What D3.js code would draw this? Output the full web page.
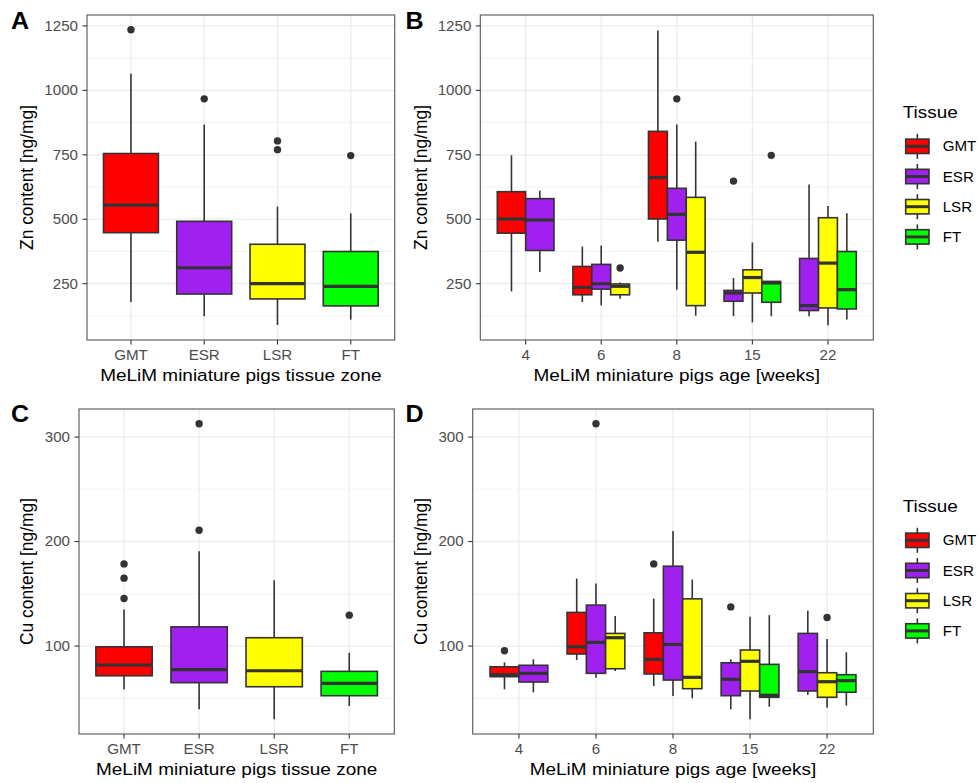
<!DOCTYPE html>
<html>
<head>
<meta charset="utf-8">
<script src="https://cdn.jsdelivr.net/npm/d3@7"></script>
<style>
  body { margin: 0; background: #fff; }
  svg { display: block; }
  text { font-family: "Liberation Sans", Arial, Helvetica, sans-serif; }
</style>
</head>
<body>
<svg id="chart" width="978" height="783"></svg>
<script>
// ---- data -------------------------------------------------------------
const tissues = ["GMT", "ESR", "LSR", "FT"];
const tissueFills = ["#FF0000", "#A020F0", "#FFFF00", "#00FF00"];
const ageLabels = ["4", "6", "8", "15", "22"];

// box statistics: [lower whisker, Q1, median, Q3, upper whisker]
// Zn by tissue zone
const znZoneStats = [
  [179, 448, 555, 755, 1064],
  [124, 210, 312, 492, 867],
  [90, 191, 250, 403, 549],
  [111, 164, 240, 375, 523]
];
const znZoneOutliers = [[1235], [967], [804, 770], [747]];

// age / tissue combinations present in the data (same for Zn and Cu)
const ageGroups = [
  ["4", "GMT"], ["4", "ESR"],
  ["6", "GMT"], ["6", "ESR"], ["6", "LSR"],
  ["8", "GMT"], ["8", "ESR"], ["8", "LSR"],
  ["15", "ESR"], ["15", "LSR"], ["15", "FT"],
  ["22", "ESR"], ["22", "LSR"], ["22", "FT"]
];

// Zn by age and tissue
const znAgeStats = [
  [220, 446, 501, 607, 748],
  [295, 379, 497, 580, 611],
  [179, 207, 236, 317, 394],
  [166, 229, 250, 325, 398],
  [192, 207, 240, 249, 255],
  [413, 501, 662, 841, 1232],
  [227, 419, 519, 620, 868],
  [126, 165, 372, 585, 801],
  [124, 182, 214, 224, 272],
  [100, 214, 274, 304, 410],
  [124, 178, 253, 259, 259],
  [124, 146, 165, 348, 635],
  [89, 156, 330, 506, 551],
  [111, 152, 227, 375, 523]
];
const znAgeOutliers = [[], [], [], [], [311], [], [967], [], [648], [], [748], [], [], []];

// Cu by tissue zone
const cuZoneStats = [
  [58.6, 71.6, 81.9, 99.3, 135],
  [39.5, 65, 77.4, 118.4, 190.7],
  [30, 61.1, 76.4, 108, 163],
  [42.7, 52.5, 64.4, 75.8, 93.6]
];
const cuZoneOutliers = [[178.6, 165, 145.5], [312.7, 210.8], [], [129.6]];

// Cu by age and tissue
const cuAgeStats = [
  [58.6, 70.7, 72.6, 80.2, 84.4],
  [55.8, 65.6, 73.9, 81.6, 87.3],
  [86.6, 92.4, 99.3, 132.2, 164.6],
  [69.7, 73.9, 103.5, 139.2, 159.9],
  [76.1, 78.3, 108, 112.1, 128.7],
  [61.8, 73.3, 87.3, 112.7, 145.5],
  [52.2, 67.5, 101.6, 176.4, 210.1],
  [50, 59.2, 70.1, 145.2, 163.7],
  [39.5, 52.5, 68.2, 84, 87.3],
  [30, 57, 85.4, 96.2, 128],
  [42, 51, 52.9, 82.5, 129.6],
  [53.2, 57, 75.5, 112.1, 133.7],
  [41.1, 51, 65.9, 74.5, 106.7],
  [43, 55.8, 66.9, 72.6, 94]
];
const cuAgeOutliers = [[95.5], [], [], [312.7], [], [178.6], [], [], [137.5], [], [], [], [127.4], []];

const znTicks = [250, 500, 750, 1000, 1250];
const znMinorTicks = [125, 375, 625, 875, 1125];
const cuTicks = [100, 200, 300];
const cuMinorTicks = [50, 150, 250];

// ---- drawing helpers --------------------------------------------------
const svg = d3.select("#chart");
const SX = 1.09;          // horizontal text stretch
const INK = "#333333";
const TITLE_SIZE = 17.4;
const TICK_SIZE = 13.9;

function label(g, x, y, s, o = {}) {
  const t = g.append("text")
    .attr("transform", `translate(${x},${y}) scale(${SX},1)` + (o.rotate ? ` rotate(${o.rotate})` : ""))
    .attr("font-size", o.size || TICK_SIZE)
    .attr("fill", o.fill || "#000")
    .attr("text-anchor", o.anchor || "start")
    .text(s);
  if (o.weight) t.attr("font-weight", o.weight);
  if (o.dy) t.attr("dy", o.dy);
  return t;
}

// continuous y scale with 5% expansion on both sides of the data range
function valueScale(lists, top, bottom) {
  const vals = lists.flat(2);
  const lo = d3.min(vals), hi = d3.max(vals), pad = (hi - lo) * 0.05;
  return d3.scaleLinear().domain([lo - pad, hi + pad]).range([bottom, top]);
}

function drawBox(g, cx, w, s, outs, fill, y) {
  const [lw, q1, med, q3, uw] = s;
  const b = g.append("g");
  b.append("line").attr("x1", cx).attr("x2", cx).attr("y1", y(q3)).attr("y2", y(uw))
    .attr("stroke", INK).attr("stroke-width", 1.6);
  b.append("line").attr("x1", cx).attr("x2", cx).attr("y1", y(q1)).attr("y2", y(lw))
    .attr("stroke", INK).attr("stroke-width", 1.6);
  b.append("rect").attr("x", cx - w / 2).attr("width", w)
    .attr("y", y(q3)).attr("height", Math.max(0, y(q1) - y(q3)))
    .attr("fill", fill).attr("stroke", INK).attr("stroke-width", 1.6);
  b.append("line").attr("x1", cx - w / 2).attr("x2", cx + w / 2).attr("y1", y(med)).attr("y2", y(med))
    .attr("stroke", INK).attr("stroke-width", 3.2);
  outs.forEach(v => {
    b.append("circle").attr("cx", cx).attr("cy", y(v)).attr("r", 3.7).attr("fill", INK);
  });
}

function drawPanel(p) {
  const g = svg.append("g");
  const { left, right, top, bottom, y } = p;
  const x = d3.scalePoint().domain(p.categories).range([left, right]).padding(0.6);
  const step = x.step();

  // grid
  const [d0, d1] = y.domain();
  p.minor.filter(v => v > d0 && v < d1).forEach(v => {
    g.append("line").attr("x1", left).attr("x2", right).attr("y1", y(v)).attr("y2", y(v))
      .attr("stroke", "#EBEBEB").attr("stroke-width", 0.6);
  });
  p.ticks.forEach(v => {
    g.append("line").attr("x1", left).attr("x2", right).attr("y1", y(v)).attr("y2", y(v))
      .attr("stroke", "#EBEBEB").attr("stroke-width", 1.2);
  });
  p.categories.forEach(c => {
    g.append("line").attr("x1", x(c)).attr("x2", x(c)).attr("y1", top).attr("y2", bottom)
      .attr("stroke", "#EBEBEB").attr("stroke-width", 1.2);
  });

  // boxes
  if (p.mode === "zone") {
    tissues.forEach((t, i) => {
      drawBox(g, x(t), 0.75 * step, p.stats[i], p.outliers[i], tissueFills[i], y);
    });
  } else {
    p.categories.forEach(a => {
      const idx = ageGroups.map((gr, i) => gr[0] === a ? i : -1).filter(i => i >= 0);
      const w = 0.75 * step / idx.length;
      idx.forEach((i, j) => {
        const cx = x(a) - 0.75 * step / 2 + w * (j + 0.5);
        drawBox(g, cx, w, p.stats[i], p.outliers[i], tissueFills[tissues.indexOf(ageGroups[i][1])], y);
      });
    });
  }

  // border
  g.append("rect").attr("x", left).attr("y", top).attr("width", right - left).attr("height", bottom - top)
    .attr("fill", "none").attr("stroke", "#555").attr("stroke-width", 1.1);

  // axes
  p.ticks.forEach(v => {
    g.append("line").attr("x1", left - 4.5).attr("x2", left).attr("y1", y(v)).attr("y2", y(v))
      .attr("stroke", INK).attr("stroke-width", 1.1);
    label(g, left - 9, y(v), String(v), { anchor: "end", fill: "#4D4D4D", dy: "0.35em" });
  });
  p.categories.forEach(c => {
    g.append("line").attr("x1", x(c)).attr("x2", x(c)).attr("y1", bottom).attr("y2", bottom + 4.5)
      .attr("stroke", INK).attr("stroke-width", 1.1);
    label(g, x(c), bottom + 20, c, { anchor: "middle", fill: "#4D4D4D" });
  });

  label(g, (left + right) / 2, bottom + 41, p.xTitle, { anchor: "middle", size: TITLE_SIZE });
  label(g, p.yTitleX, (top + bottom) / 2, p.yTitle, { anchor: "middle", size: TITLE_SIZE, rotate: -90 });
  label(g, p.tagX, p.tagY, p.tag, { size: 23, weight: "bold" });
}

function drawLegend(dy) {
  const g = svg.append("g");
  label(g, 902.7, 118.3 + dy, "Tissue", { size: TITLE_SIZE });
  tissues.forEach((t, i) => {
    const cy = 146.3 + dy + i * 30.2;
    const x0 = 905.7, x1 = 929, cx = (x0 + x1) / 2;
    g.append("line").attr("x1", cx).attr("x2", cx).attr("y1", cy - 12.5).attr("y2", cy + 12.5)
      .attr("stroke", INK).attr("stroke-width", 1.6);
    g.append("rect").attr("x", x0).attr("y", cy - 7.2).attr("width", x1 - x0).attr("height", 14.4)
      .attr("fill", tissueFills[i]).attr("stroke", INK).attr("stroke-width", 1.6);
    g.append("line").attr("x1", x0).attr("x2", x1).attr("y1", cy).attr("y2", cy)
      .attr("stroke", INK).attr("stroke-width", 3);
    label(g, 942.7, cy, t, { dy: "0.36em" });
  });
}

// ---- panels -----------------------------------------------------------
const yZnA = valueScale([znZoneStats, znZoneOutliers, znAgeStats, znAgeOutliers], 15, 340);
const yCu = valueScale([cuZoneStats, cuZoneOutliers, cuAgeStats, cuAgeOutliers], 409, 734);

drawPanel({
  mode: "zone", categories: tissues, stats: znZoneStats, outliers: znZoneOutliers,
  left: 87, right: 394.7, top: 15, bottom: 340, y: yZnA,
  ticks: znTicks, minor: znMinorTicks,
  xTitle: "MeLiM miniature pigs tissue zone", yTitle: "Zn content [ng/mg]", yTitleX: 33,
  tag: "A", tagX: 11, tagY: 29
});
drawPanel({
  mode: "age", categories: ageLabels, stats: znAgeStats, outliers: znAgeOutliers,
  left: 480.3, right: 873.3, top: 15, bottom: 340, y: yZnA,
  ticks: znTicks, minor: znMinorTicks,
  xTitle: "MeLiM miniature pigs age [weeks]", yTitle: "Zn content [ng/mg]", yTitleX: 426.5,
  tag: "B", tagX: 405.5, tagY: 29
});
drawPanel({
  mode: "zone", categories: tissues, stats: cuZoneStats, outliers: cuZoneOutliers,
  left: 79, right: 394.3, top: 409, bottom: 734, y: yCu,
  ticks: cuTicks, minor: cuMinorTicks,
  xTitle: "MeLiM miniature pigs tissue zone", yTitle: "Cu content [ng/mg]", yTitleX: 33,
  tag: "C", tagX: 11, tagY: 422
});
drawPanel({
  mode: "age", categories: ageLabels, stats: cuAgeStats, outliers: cuAgeOutliers,
  left: 472.7, right: 873.3, top: 409, bottom: 734, y: yCu,
  ticks: cuTicks, minor: cuMinorTicks,
  xTitle: "MeLiM miniature pigs age [weeks]", yTitle: "Cu content [ng/mg]", yTitleX: 426.5,
  tag: "D", tagX: 405.5, tagY: 422
});

drawLegend(0);
drawLegend(394);
</script>
</body>
</html>
